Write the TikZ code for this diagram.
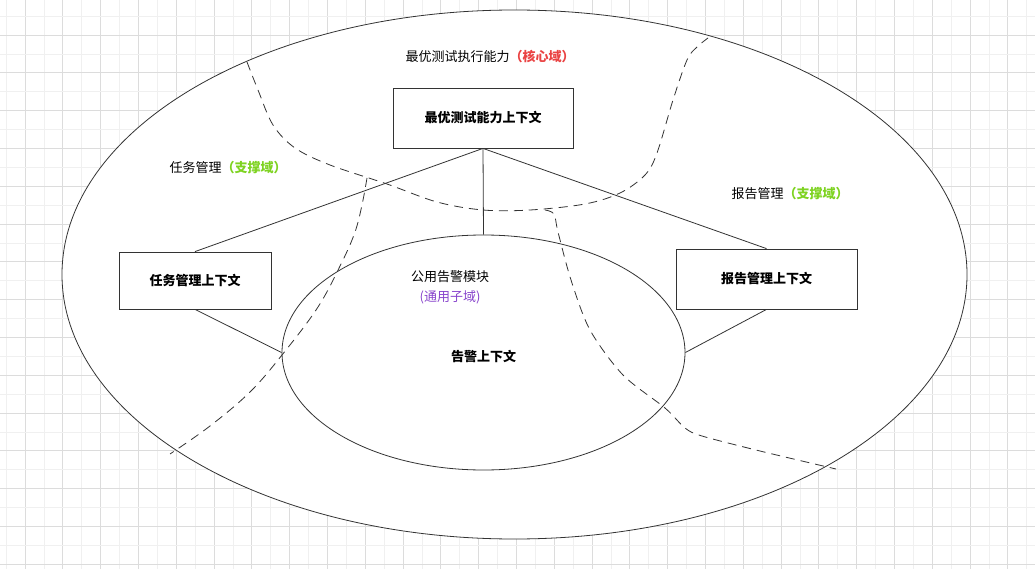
\documentclass[tikz,border=0pt]{standalone}
\usepackage{fontspec}
\setmainfont{Noto Sans CJK SC}
\usetikzlibrary{shapes.geometric,positioning}

\definecolor{coreRed}{RGB}{234,67,67}
\definecolor{supGreen}{RGB}{126,211,33}
\definecolor{genPurple}{RGB}{136,68,204}
\definecolor{gridMinor}{RGB}{240,240,240}
\definecolor{gridMajor}{RGB}{220,220,220}
\definecolor{edge}{RGB}{51,51,51}

\begin{document}
\begin{tikzpicture}[
  x=1pt, y=-1pt,
  every node/.style={font=\fontsize{13}{20}\selectfont},
  ctx/.style={draw=edge, line width=0.8pt, fill=white, align=center, font=\fontsize{13}{20}\selectfont\bfseries},
  lbl/.style={align=center, inner sep=1pt},
  link/.style={draw=edge, line width=0.8pt},
  border/.style={draw=edge, line width=0.8pt, dash pattern=on 9pt off 6pt}
]
  \useasboundingbox (0,0) rectangle (1035,569);
  % grid
  \fill[white] (0,0) rectangle (1035,569);
  \foreach \g in {0,...,27} {
    \draw[gridMinor, line width=0.7pt] ({6.1+37.8*\g},0) -- ({6.1+37.8*\g},569);
    \draw[gridMajor, line width=0.7pt] ({25+37.8*\g},0) -- ({25+37.8*\g},569);
  }
  \foreach \g in {0,...,15} {
    \draw[gridMinor, line width=0.7pt] (0,{16.1+37.8*\g}) -- (1035,{16.1+37.8*\g});
    \draw[gridMajor, line width=0.7pt] (0,{35+37.8*\g}) -- (1035,{35+37.8*\g});
  }

  % outer domain
  \draw[link, fill=white] (514.5,274.5) ellipse [x radius=452.5pt, y radius=264.5pt];

  % sub domain borders
  \draw[border] plot[smooth, tension=0.55] coordinates {(247,62) (258,90) (273,125) (295,148) (330,165) (387,184) (437,202) (483,210) (530,210) (585,204) (620,193) (645,175) (657,153) (673,100) (687,60) (697,47) (708,38)};
  \draw[border] plot[smooth, tension=0.5] coordinates {(545,210) (554,214) (558,232) (571,280) (590,330) (623,375) (665,408) (685,428) (702,436) (760,451) (836,469)};
  \draw[border] plot[smooth, tension=0.6] coordinates {(367,178) (362,205) (355,232) (342,262) (318,307) (282,355) (250,392) (210,426) (170,454)};

  % contexts
  \node[ctx, minimum width=180pt, minimum height=60pt] (core) at (483,118) {最优测试能力上下文};
  \node[ctx, minimum width=152pt, minimum height=57pt] (task) at (195,280.5) {任务管理上下文};
  \node[ctx, minimum width=181pt, minimum height=60pt] (report) at (766.5,279) {报告管理上下文};
  \node[ellipse, draw=edge, line width=0.8pt, inner sep=0pt, minimum width=403pt, minimum height=235pt,
        text height=20pt, font=\fontsize{13}{20}\selectfont\bfseries] (alert) at (483.5,352.5) {告警上下文};

  % domain labels
  \node[lbl] (coreLbl) at (490,57) {最优测试执行能力\textcolor{coreRed}{\bfseries （核心域）}};
  \node[lbl] (taskLbl) at (228,168) {任务管理\textcolor{supGreen}{\bfseries （支撑域）}};
  \node[lbl] (reportLbl) at (790,194) {报告管理\textcolor{supGreen}{\bfseries （支撑域）}};
  \node[lbl] (alertLbl) at (450,287) {公用告警模块\\\textcolor{genPurple}{(通用子域)}};

  \draw[link] (core.south) -- (task.north);
  \draw[link] (core.south) -- (report.north);
  \draw[link] (core.south) -- (alert.north);
  \draw[link] (task.south) -- (alert.west);
  \draw[link] (report.south) -- (alert.east);
\end{tikzpicture}
\end{document}
